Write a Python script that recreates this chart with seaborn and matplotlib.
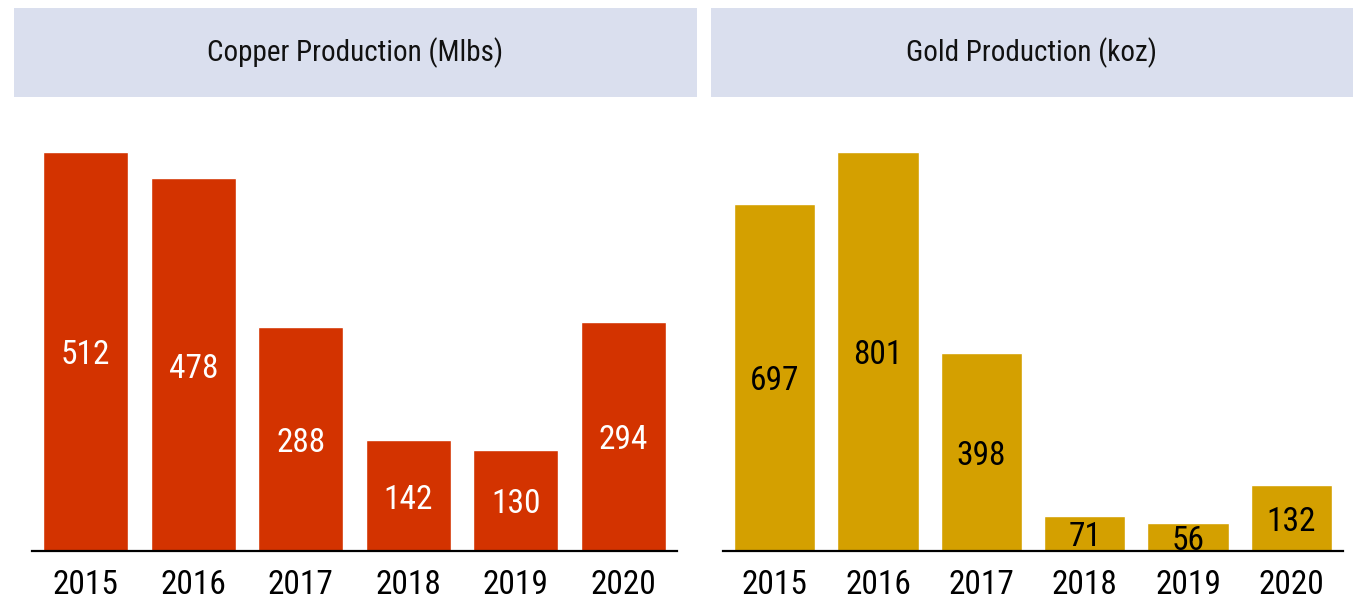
import matplotlib
matplotlib.use('Agg')
import matplotlib.pyplot as plt
import seaborn as sns
import pandas as pd
from matplotlib.patches import Rectangle

years = ['2015', '2016', '2017', '2018', '2019', '2020']
copper = [512, 478, 288, 142, 130, 294]
gold = [697, 801, 398, 71, 56, 132]
titles = ['Copper Production (Mlbs)', 'Gold Production (koz)']

COPPER = '#D33300'
GOLD = '#D4A000'
BOX = '#DADFEE'

sns.set_theme(style='white')
plt.rcParams['font.family'] = ['Roboto Condensed', 'Barlow Condensed', 'DejaVu Sans']

fig = plt.figure(figsize=(13.6, 6.02), dpi=100)

# panel layout in pixels: (box left, box right, axes left, axes right)
panels = [
    (14, 697, 32, 677, copper, COPPER, 'white', titles[0]),
    (711, 1353, 723, 1343, gold, GOLD, 'black', titles[1]),
]
W, H = 1360, 602

for bx0, bx1, ax0, ax1, vals, col, lblcol, title in panels:
    fig.patches.append(Rectangle((bx0 / W, (H - 97) / H), (bx1 - bx0) / W, 89 / H,
                                 transform=fig.transFigure, facecolor=BOX,
                                 edgecolor='none', zorder=0))
    fig.text((bx0 + bx1) / 2 / W, (H - 53) / H, title, ha='center', va='center',
             fontsize=21, color='#111111')

    ax = fig.add_axes([ax0 / W, (H - 551) / H, (ax1 - ax0) / W, (551 - 120) / H])
    df = pd.DataFrame({'year': years, 'value': vals})
    sns.barplot(data=df, x='year', y='value', color=col, saturation=1,
                width=0.79, ax=ax)
    ax.set_xlim(-0.5, 5.5)
    ax.set_ylim(0, max(vals) * 1.08)
    # value labels in the middle of each bar
    for p, v in zip(ax.patches, vals):
        ax.annotate(str(v), (p.get_x() + p.get_width() / 2, p.get_height() / 2),
                    xytext=(0, -4), textcoords='offset pixels',
                    ha='center', va='center', color=lblcol, fontsize=24)
    for s in ['top', 'right', 'left']:
        ax.spines[s].set_visible(False)
    ax.spines['bottom'].set_color('black')
    ax.spines['bottom'].set_linewidth(1.6)
    ax.set_yticks([])
    ax.set_xlabel('')
    ax.set_ylabel('')
    ax.tick_params(axis='x', length=0, pad=13, labelsize=24, labelcolor='black')
    ax.set_facecolor('none')

fig.savefig('out.png', dpi=100)
